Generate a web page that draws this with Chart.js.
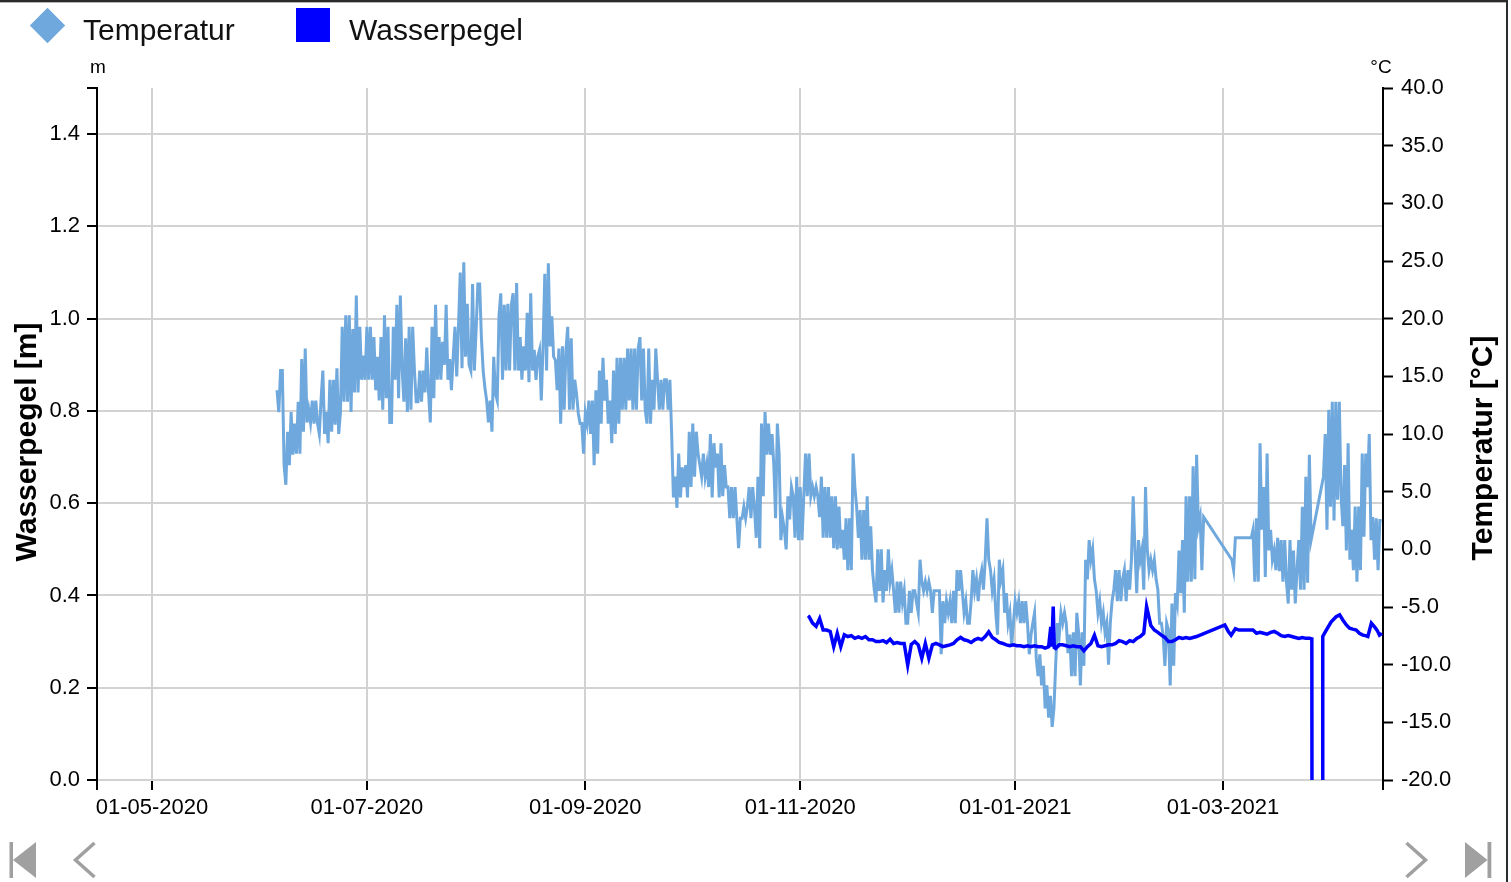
<!DOCTYPE html>
<html>
<head>
<meta charset="utf-8">
<script src="https://cdn.jsdelivr.net/npm/chart.js@4.4.1/dist/chart.umd.min.js"></script>
<style>
  html, body { margin: 0; padding: 0; background: #fff; overflow: hidden; }
  body { width: 1511px; height: 882px; position: relative; font-family: Arial, "Liberation Sans", sans-serif; }
  .wrap { position: absolute; left: 0; top: 0; width: 1511px; height: 882px; }
  .topline { position: absolute; left: 0; top: 0; width: 1508px; height: 2px; background: #2b2b2b; }
  .topline2 { position: absolute; left: 0; top: 2px; width: 1506px; height: 1px; background: #b5b5b5; }
  .rightline { position: absolute; left: 1506px; top: 0; width: 2px; height: 882px; background: #2b2b2b; }
  .lg-icon { position: absolute; }
  .lg-text { position: absolute; font-size: 30px; line-height: 30px; color: #111; white-space: nowrap; }
  .nav { position: absolute; left: 0; top: 830px; }
</style>
</head>
<body>
<div class="wrap"><canvas id="myChart"></canvas></div>
<div class="topline"></div>
<div class="topline2"></div>
<div class="rightline"></div>

<div class="lg-icon" style="left:35px; top:13px; width:25px; height:25px; background:#6fa8dc; transform:rotate(45deg);"></div>
<div class="lg-text" style="left:83px; top:15px;">Temperatur</div>
<div class="lg-icon" style="left:296px; top:8px; width:34px; height:34px; background:#0000ff;"></div>
<div class="lg-text" style="left:349px; top:15px;">Wasserpegel</div>

<svg class="nav" width="1511" height="52" viewBox="0 830 1511 52">
  <g fill="#a0a0a0" stroke="none">
    <rect x="9.5" y="842" width="3.5" height="36"></rect>
    <polygon points="13,860 36,842 36,878"></polygon>
    <polygon points="1465,842 1487.5,860 1465,878"></polygon>
    <rect x="1487.5" y="842" width="3.8" height="36"></rect>
  </g>
  <g fill="none" stroke="#a0a0a0" stroke-width="3.5">
    <polyline points="94.5,843 75.5,860 94.5,877"></polyline>
    <polyline points="1406.5,843 1425.5,860 1406.5,877"></polyline>
  </g>
</svg>

<script>
// x values are days counted from 01-05-2020
var xMin = -15.6;
var xMax = 349.4;
var xTickDays = [0, 61, 123, 184, 245, 304];
var xTickLabels = ["01-05-2020", "01-07-2020", "01-09-2020", "01-11-2020", "01-01-2021", "01-03-2021"];

var leftTicks = [0, 0.2, 0.4, 0.6, 0.8, 1.0, 1.2, 1.4, 1.5];

// Temperatur [°C], one reading every 12 hours starting at day 35.5, null = no data
var tempStartDay = 35.5;
var tempStepDays = 0.5;
var temperatur = [
  13.8, 11.9, 15.5, 15.5, 7.3, 5.6, 10.2, 7.3, 11.9, 8.2,
  10.9, 8.3, 12.8, 8.3, 16.5, 10.2, 17.4, 11.0, 12.1, 11.0,
  12.9, 10.9, 12.9, 10.9, 10.0, 13.0, 15.5, 10.0, 11.9, 9.2,
  14.7, 10.2, 14.7, 10.8, 15.7, 10.0, 11.9, 19.3, 12.8, 20.3,
  12.8, 20.3, 11.9, 19.1, 13.6, 22.0, 13.6, 19.3, 14.7, 16.8,
  14.7, 19.3, 14.7, 19.3, 14.7, 18.4, 13.8, 16.7, 12.9, 18.4,
  12.1, 20.3, 13.1, 19.3, 11.0, 11.0, 19.3, 14.7, 21.2, 13.1,
  22.0, 15.7, 12.8, 18.3, 11.9, 19.3, 12.1, 19.3, 15.5, 12.8,
  12.8, 15.5, 12.8, 15.5, 13.6, 17.5, 13.6, 11.0, 19.3, 13.1,
  21.2, 14.7, 18.4, 14.7, 18.0, 16.0, 21.2, 14.7, 16.5, 13.8,
  16.7, 19.3, 15.0, 19.3, 24.0, 15.7, 24.9, 16.7, 21.3, 16.0,
  15.5, 23.0, 15.5, 19.0, 23.0, 23.0, 18.4, 15.5, 14.0, 12.9,
  11.0, 12.9, 10.2, 16.7, 13.5, 12.9, 20.3,
  // august / september
  22.2, 14.7, 21.2, 15.5, 21.3, 15.5, 21.2, 22.2, 15.5, 23.1,
  15.5, 18.4, 14.7, 17.6, 15.5, 20.5, 14.5, 22.2, 15.5, 17.3,
  14.7, 16.7, 17.3, 12.9, 17.6, 23.9, 15.5, 24.8, 17.6, 20.2,
  16.7, 16.4, 13.8, 17.4, 10.9, 17.6, 12.1, 17.3, 19.3, 12.1,
  18.3, 12.1, 14.7, 13.5, 11.8, 10.9, 10.9, 8.3, 11.8, 10.9,
  12.9, 10.0, 12.9, 7.3, 13.8, 8.3, 15.5, 10.9, 16.6, 12.9,
  14.7, 10.9, 12.9, 9.2, 15.5, 10.0, 16.6, 10.9, 16.6, 12.1,
  16.6, 12.1, 17.4, 12.9, 17.4, 12.1, 17.4, 12.1, 17.4, 18.4,
  12.9, 17.4, 12.1, 10.9, 17.4, 10.9, 14.7, 12.1, 17.4, 14.7,
  12.1, 14.7, 12.1, 14.7, 14.7, 12.1, 14.7, 10.0, 4.5, 6.3,
  3.6, 8.3, 4.5, 7.1, 5.4, 7.3, 4.5, 10.2, 5.4, 10.9,
  6.3, 10.2, 8.3, 7.3, 6.3, 8.3, 6.3, 7.4, 5.4, 10.0,
  4.5, 9.2, 7.1, 8.3, 4.5,
  // october / november
  9.2, 4.6, 7.3, 5.4, 5.4, 2.7, 5.4, 2.7, 5.4, 2.7,
  0.1, 2.7, 2.7, 3.7, 2.7, 3.7, 5.4, 2.7, 5.4, 3.6,
  1.0, 6.3, 0.1, 10.9, 4.6, 11.9, 8.2, 10.9, 8.2, 10.0,
  7.3, 2.7, 10.9, 8.3, 0.8, 2.7, 1.7, 0.0, 4.6, 2.6,
  5.4, 4.6, 1.0, 6.3, 0.8, 5.4, 0.8, 4.6, 8.3, 4.6,
  8.3, 4.6, 5.4, 4.6, 5.4, 4.6, 2.8, 6.3, 1.0, 5.4,
  1.0, 5.4, 1.0, 4.6, 0.1, 4.6, 0.0, 3.7, 0.1, 1.7,
  -0.9, 2.7, -1.8, 2.7, -1.8, 8.3, 5.4, 3.7, 1.0, 3.4,
  -0.9, 3.4, -0.9, 4.6, -0.9, 2.0, -1.8, -3.5, -4.6, 0.0,
  -3.6, 0.0, -4.6, -1.8, -3.6, 0.0, -2.8, -1.8, -3.6, -5.5,
  -2.8, -5.5, -2.8, -4.6, -3.6, -6.4, -6.4, -3.6, -5.5, -3.6,
  -3.6, -4.6, -5.5, -0.9, -2.8, -3.6, -2.8, -3.6, -2.8, -3.6,
  -5.5, -3.6, -3.6, -3.6, -3.6,
  // december / january
  -9.1, -4.5, -6.4, -4.5, -5.5, -4.5, -6.4, -3.6, -6.4, -1.8,
  -3.6, -1.8, -3.6, -5.5, -4.5, -6.4, -6.4, -4.5, -1.8, -3.6,
  -2.6, -4.5, -2.6, -1.8, -3.5, -0.9, 2.7, -0.9, -1.8, -3.6,
  -2.6, -5.5, -7.4, -0.9, -2.6, -1.8, -5.5, -3.8, -6.4, -5.5,
  -8.4, -6.4, -4.5, -5.5, -4.5, -6.4, -4.5, -6.4, -4.5, -6.4,
  -9.1, -7.4, -6.4, -5.5, -9.5, -11.0, -9.1, -11.8, -10.1, -13.8,
  -11.8, -14.6, -12.7, -15.4, -13.8, -10.0, -6.4, -7.5, -5.5, -6.4,
  -5.5, -6.4, -9.0, -7.4, -11.0, -7.2, -11.0, -5.5, -7.2, -11.8,
  -7.2, -10.1, -0.9, -2.6, 0.8, -0.9, 0.0, -2.6, -3.6, -5.5,
  -4.5, -6.4, -5.5, -7.2, -6.4, -10.0, -6.4, -4.5, -3.5, -1.8,
  -4.5, -1.8, -4.5, -2.6, -1.8, -4.5, -1.8, -3.5, -0.9, 4.6,
  0.0, -3.8, 0.8, -0.9, 0.0, -3.5, 5.4, 0.0, -1.8, -0.9,
  -1.8, -0.9, -2.6, -3.5, -6.4,
  // february - april
  -6.4, -7.5, -10.1, -6.4, -7.0, -11.8, -4.7, -10.1, -3.8, -4.7,
  -0.1, -3.8, 0.8, -5.5, 4.6, -2.8, 4.6, -2.8, 7.2, -2.6,
  8.2, 2.0, 2.8, -1.8, 2.8,
  null, null, null, null, null, null, null, null, null, null, null, null, null, null, null,
  -0.9, -1.8, 1.0,
  null, null, null, null, null, null, null,
  1.0, 1.0,
  1.7, -2.8, 2.7, -2.8, 9.2, 1.7, 5.4, -2.4,
  8.3, -0.1, 1.7, -0.9, -0.1, -1.8, 1.0, -1.9, 0.8, -2.8,
  0.8, -2.8, -4.7, 0.8, -3.5, -0.1, -4.7, -1.8, 0.8, -3.5,
  3.7, -3.5, 6.3, -2.9, 8.2, 0.8,
  null, null, null, null, null, null,
  6.3, 10.0, 1.7, 12.1, 3.7, 12.8, 2.5, 12.8,
  4.3, 12.8, 4.6, 2.0, 7.3, -0.1, 9.2, -0.9, 1.7, -1.8,
  3.7, -2.8, 3.7, -1.8, 8.3, 1.1, 8.3, 5.4, 10.0, 0.8,
  2.8, -0.9, 2.7, -1.8, 2.5, 2.5
];

// Wasserpegel [m] as [day, level]
var wasserpegel = [
  [186.2, 0.356], [186.5, 0.354], [187.5, 0.340], [188.5, 0.333], [189.5, 0.350], [190.5, 0.325], [191.5, 0.325], [192.5, 0.322], [193.5, 0.289], [194.5, 0.318],
  [195.5, 0.289], [196.5, 0.315], [197.5, 0.311], [198.5, 0.313], [199.5, 0.307], [200.5, 0.310], [201.5, 0.307], [202.5, 0.311], [203.5, 0.304], [204.5, 0.304],
  [205.5, 0.300], [206.5, 0.300], [207.5, 0.302], [208.5, 0.298], [209.5, 0.305], [210.5, 0.296], [211.5, 0.298], [212.5, 0.296], [213.5, 0.296], [214.5, 0.249],
  [215.5, 0.294], [216.5, 0.300], [217.5, 0.293], [218.5, 0.264], [219.5, 0.296], [220.5, 0.264], [221.5, 0.293], [222.5, 0.296], [223.5, 0.293], [224.5, 0.289],
  [225.5, 0.291], [226.5, 0.293], [227.5, 0.296], [228.5, 0.304], [229.5, 0.309], [230.5, 0.304], [231.5, 0.302], [232.5, 0.298], [233.5, 0.304], [234.5, 0.307],
  [235.5, 0.304], [236.5, 0.311], [237.5, 0.321], [238.5, 0.309], [239.5, 0.304], [240.5, 0.298], [241.5, 0.296], [242.5, 0.293], [243.5, 0.291], [244.5, 0.293],
  [245.5, 0.291], [246.5, 0.291], [247.5, 0.289], [248.5, 0.291], [249.5, 0.289], [250.5, 0.291], [251.5, 0.289], [252.5, 0.289], [253.5, 0.286], [254.5, 0.289],
  [255.1, 0.332], [255.4, 0.289], [255.8, 0.376], [256.1, 0.287], [256.5, 0.285], [257.5, 0.293], [258.5, 0.293], [259.5, 0.291], [260.5, 0.289], [261.5, 0.291],
  [262.5, 0.289], [263.5, 0.289], [264.5, 0.280], [265.5, 0.289], [266.5, 0.296], [267.5, 0.314], [268.5, 0.291], [269.5, 0.289], [270.5, 0.291], [271.5, 0.293],
  [272.5, 0.293], [273.5, 0.296], [274.5, 0.302], [275.5, 0.300], [276.5, 0.296], [277.5, 0.302], [278.5, 0.300], [279.5, 0.307], [280.5, 0.311], [281.5, 0.318],
  [282.3, 0.376], [283.5, 0.335], [284.5, 0.325], [285.5, 0.320], [286.5, 0.314], [287.5, 0.309], [288.5, 0.300], [289.5, 0.300], [290.5, 0.304], [291.5, 0.309],
  [292.5, 0.307], [293.5, 0.309], [294.5, 0.307], [295.5, 0.309], [296.5, 0.311], [297.5, 0.314],
  [304.5, 0.336], [305.5, 0.322], [306.3, 0.314], [307.5, 0.328], [308.5, 0.325],
  [312.5, 0.325], [313.5, 0.318], [314.5, 0.320], [315.5, 0.318], [316.5, 0.316], [317.5, 0.320], [318.5, 0.322], [319.5, 0.318], [320.5, 0.313], [321.5, 0.311],
  [322.5, 0.313], [323.5, 0.311], [324.5, 0.309], [325.5, 0.307], [326.5, 0.309], [327.5, 0.307], [328.5, 0.307], [329.2, 0.306],
  [329.25, -0.1], [332.25, -0.1],
  [332.3, 0.311], [333.3, 0.325], [334.7, 0.343], [336.1, 0.354], [337.1, 0.358], [338.0, 0.347], [339.0, 0.336], [339.9, 0.329], [340.8, 0.327], [341.8, 0.325],
  [342.7, 0.318], [343.7, 0.314], [344.4, 0.313], [345.1, 0.311], [346.1, 0.340], [347.0, 0.332], [347.7, 0.325], [348.4, 0.314], [349.1, 0.318]
];

var fontFamily = 'Arial, "Liberation Sans", sans-serif';
Chart.defaults.font.family = fontFamily;
Chart.defaults.color = '#000';

var tempPoints = [];
for (var i = 0; i < temperatur.length; i++) {
  tempPoints.push({ x: tempStartDay + i * tempStepDays, y: temperatur[i] });
}
var waterPoints = wasserpegel.map(function (p) { return { x: p[0], y: p[1] }; });

var gridGray = '#d2d2d2';

// unit labels and rotated axis titles
var axisText = {
  id: 'axisText',
  afterDraw: function (chart) {
    var ctx = chart.ctx;
    var a = chart.chartArea;
    ctx.save();
    ctx.fillStyle = '#000';
    ctx.textAlign = 'center';
    ctx.textBaseline = 'alphabetic';
    ctx.font = '19px ' + fontFamily;
    ctx.fillText('m', a.left + 1, 73);
    ctx.fillText('°C', a.right - 2, 73);

    ctx.font = 'bold 30px ' + fontFamily;
    ctx.save();
    ctx.translate(36, 442);
    ctx.rotate(-Math.PI / 2);
    ctx.fillText('Wasserpegel [m]', 0, 0);
    ctx.restore();

    ctx.save();
    ctx.translate(1492, 448);
    ctx.rotate(-Math.PI / 2);
    ctx.fillText('Temperatur [°C]', 0, 0);
    ctx.restore();
    ctx.restore();
  }
};

var ctx = document.getElementById('myChart').getContext('2d');
var myChart = new Chart(ctx, {
  type: 'line',
  data: {
    datasets: [{
      label: 'Temperatur',
      data: tempPoints,
      yAxisID: 'y1',
      borderColor: '#6fa8dc',
      backgroundColor: '#6fa8dc',
      borderWidth: 3,
      pointRadius: 0,
      tension: 0,
      spanGaps: true,
      order: 1
    }, {
      label: 'Wasserpegel',
      data: waterPoints,
      yAxisID: 'y',
      borderColor: '#0000ff',
      backgroundColor: '#0000ff',
      borderWidth: 3.5,
      pointRadius: 0,
      tension: 0,
      order: 0
    }]
  },
  options: {
    responsive: true,
    maintainAspectRatio: false,
    animation: false,
    events: [],
    layout: { padding: { top: 88, left: 0, right: 0, bottom: 0 } },
    plugins: {
      legend: { display: false },
      tooltip: { enabled: false }
    },
    scales: {
      x: {
        type: 'linear',
        min: xMin,
        max: xMax,
        afterFit: function (scale) { scale.height = 102; },
        afterBuildTicks: function (axis) {
          axis.ticks = [xMin].concat(xTickDays, [xMax]).map(function (v) { return { value: v }; });
        },
        ticks: {
          autoSkip: false,
          maxRotation: 0,
          padding: 5,
          color: '#000',
          font: { size: 22 },
          callback: function (value) {
            var k = xTickDays.indexOf(value);
            return k >= 0 ? xTickLabels[k] : '';
          }
        },
        grid: {
          color: function (c) {
            if (c.tick && (c.tick.value === xMin || c.tick.value === xMax)) return 'rgba(0,0,0,0)';
            return gridGray;
          },
          lineWidth: 2,
          tickLength: 10,
          tickColor: '#000',
          tickWidth: 2
        },
        border: { display: true, color: gridGray, width: 2 }
      },
      y: {
        type: 'linear',
        position: 'left',
        min: 0,
        max: 1.5,
        afterFit: function (scale) { scale.width = 97; },
        afterBuildTicks: function (axis) {
          axis.ticks = leftTicks.map(function (v) { return { value: v }; });
        },
        ticks: {
          padding: 7,
          color: '#000',
          font: { size: 22 },
          callback: function (value) {
            return value === 1.5 ? '' : value.toFixed(1);
          }
        },
        grid: {
          color: function (c) {
            if (c.tick && c.tick.value === 1.5) return 'rgba(0,0,0,0)';
            return gridGray;
          },
          lineWidth: 2,
          tickLength: 10,
          tickColor: '#000',
          tickWidth: 2
        },
        border: { display: true, color: '#000', width: 2 }
      },
      y1: {
        type: 'linear',
        position: 'right',
        min: -20,
        max: 40,
        afterFit: function (scale) { scale.width = 128; },
        ticks: {
          stepSize: 5,
          padding: 8,
          color: '#000',
          font: { size: 22 },
          callback: function (value) { return value.toFixed(1); }
        },
        grid: {
          drawOnChartArea: false,
          tickLength: 10,
          tickColor: '#000',
          tickWidth: 2
        },
        border: { display: true, color: '#000', width: 2 }
      }
    }
  },
  plugins: [axisText]
});
</script>
</body>
</html>
